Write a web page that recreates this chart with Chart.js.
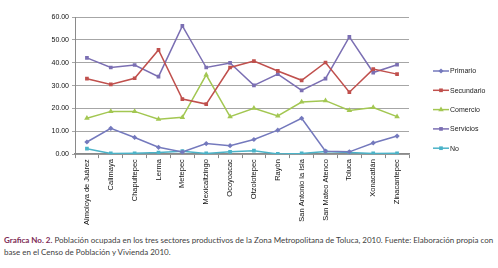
<!DOCTYPE html>
<html>
<head>
<meta charset="utf-8">
<script src="https://cdn.jsdelivr.net/npm/chart.js@4/dist/chart.umd.min.js"></script>
<style>
  html, body { margin: 0; padding: 0; background: #fff; }
  #wrap { position: relative; width: 498px; height: 228px; }
  .caption {
    font-family: Lato, "Open Sans", sans-serif;
    font-size: 8px;
    line-height: 12px;
    color: #404040;
    margin: 6px 0 0 4px;
    white-space: nowrap;
  }
  .caption b { color: #7d2a55; }
</style>
</head>
<body>
<div id="wrap"><canvas id="chart"></canvas></div>
<div class="caption"><b>Grafica No. 2.</b> Población ocupada en los tres sectores productivos de la Zona Metropolitana de Toluca, 2010. Fuente: Elaboración propia con<br>base en el Censo de Población y Vivienda 2010.</div>
<script>
const municipios = ['Almoloya de Juárez', 'Calimaya', 'Chapultepec', 'Lerma', 'Metepec', 'Mexicaltzingo',
  'Ocoyoacac', 'Otzolotepec', 'Rayón', 'San Antonio la Isla', 'San Mateo Atenco', 'Toluca',
  'Xonacatlán', 'Zinacantepec'];

const primario   = [5.3, 11.3, 7.3, 3.0, 0.9, 4.6, 3.7, 6.4, 10.5, 15.7, 1.3, 1.0, 4.9, 7.9];
const secundario = [33.0, 30.5, 33.2, 45.6, 24.1, 21.9, 37.9, 40.7, 36.4, 32.3, 40.1, 27.1, 37.2, 35.0];
const comercio   = [15.7, 18.7, 18.7, 15.3, 16.1, 34.7, 16.4, 20.1, 16.7, 22.8, 23.4, 19.1, 20.4, 16.4];
const servicios  = [42.1, 37.9, 39.0, 33.9, 56.1, 37.9, 39.9, 30.1, 35.0, 27.9, 33.0, 51.3, 35.7, 39.1];
const noEsp      = [2.4, 0.3, 0.4, 0.7, 1.3, 0.3, 1.0, 1.5, 0.1, 0.3, 1.2, 0.7, 0.3, 0.4];

const yTicks = [0, 10, 20, 30, 40, 50, 60];

function serie(label, data, color, style) {
  return {
    label, data,
    borderColor: color,
    backgroundColor: color,
    borderWidth: 1.5,
    pointStyle: style,
    pointRadius: style === 'triangle' ? 3.2 : 2.6,
    pointBorderWidth: 0,
    tension: 0
  };
}

// legend: short line with the marker in the middle, like the Excel original
const lineLegend = {
  id: 'lineLegend',
  afterDraw(chart) {
    const ctx = chart.ctx;
    const x0 = 433, x1 = 449;
    const top = 71, gap = 19.3;
    ctx.save();
    chart.data.datasets.forEach((ds, i) => {
      const y = top + i * gap;
      ctx.strokeStyle = ds.borderColor;
      ctx.lineWidth = 1.5;
      ctx.beginPath();
      ctx.moveTo(x0, y);
      ctx.lineTo(x1, y);
      ctx.stroke();
      ctx.fillStyle = ds.backgroundColor;
      Chart.helpers.drawPoint(ctx, {
        pointStyle: ds.pointStyle, radius: ds.pointRadius, rotation: 0, borderWidth: 0
      }, (x0 + x1) / 2, y);
      ctx.fillStyle = '#222';
      ctx.font = '7px "Liberation Sans", Arial, sans-serif';
      ctx.textBaseline = 'middle';
      ctx.fillText(ds.label, x1 + 1, y + 0.5);
    });
    ctx.restore();
  }
};

new Chart(document.getElementById('chart'), {
  type: 'line',
  data: {
    labels: municipios,
    datasets: [
      serie('Primario', primario, '#7479bd', 'rectRot'),
      serie('Secundario', secundario, '#c0504d', 'rect'),
      serie('Comercio', comercio, '#a3c752', 'triangle'),
      serie('Servicios', servicios, '#7b6fb3', 'rect'),
      serie('No', noEsp, '#4bb3c8', 'rect')
    ]
  },
  options: {
    responsive: true,
    maintainAspectRatio: false,
    animation: false,
    layout: { padding: { left: 48, right: 89, top: 17, bottom: 2 } },
    plugins: { legend: { display: false }, tooltip: { enabled: false } },
    scales: {
      x: {
        offset: true,
        grid: { offset: true, drawOnChartArea: false, drawTicks: true, tickLength: 4, color: '#8a8a8a' },
        border: { color: '#8a8a8a', width: 1.5 },
        ticks: {
          minRotation: 90, maxRotation: 90, autoSkip: false, padding: 1,
          color: '#111', font: { family: '"Liberation Sans", Arial, sans-serif', size: 7.5 }
        }
      },
      y: {
        min: 0, max: 60,
        afterBuildTicks: (s) => { s.ticks = yTicks.map(v => ({ value: v })); },
        afterFit: (s) => { s.width = 27; },
        grid: { color: '#a6a6a6', lineWidth: 1, drawTicks: true, tickLength: 3 },
        border: { color: '#8a8a8a', width: 1 },
        ticks: {
          padding: 3,
          color: '#111',
          font: { family: '"Liberation Sans", Arial, sans-serif', size: 7 },
          callback: (v) => Number(v).toFixed(2)
        }
      }
    }
  },
  plugins: [lineLegend]
});
</script>
</body>
</html>
